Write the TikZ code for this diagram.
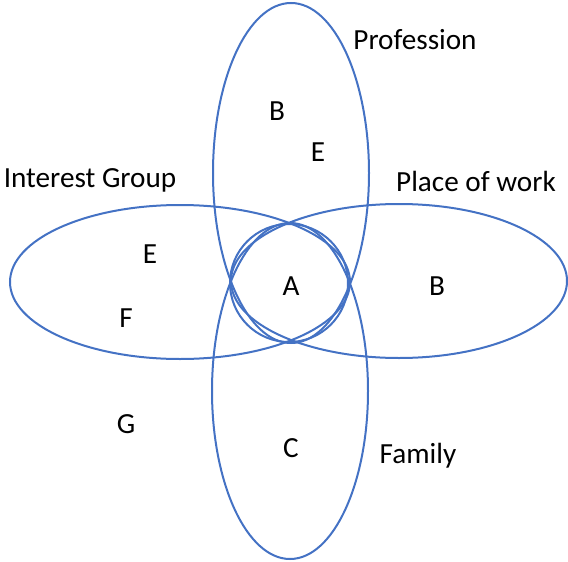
\documentclass[tikz,border=0pt]{standalone}
\usepackage{fontspec}
\setmainfont{Carlito}
\usetikzlibrary{positioning}

\definecolor{setblue}{RGB}{68,114,196}

\begin{document}
\begin{tikzpicture}
    [x=0.5pt, y=-0.5pt,
      set/.style={draw=setblue, line width=1pt},
      member/.style={inner sep=0pt, font=\fontsize{14.6}{17}\selectfont},
      setname/.style={member, anchor=center}]

    \useasboundingbox (0,0) rectangle (568,562);

    % the four groups and the core
    \draw [set] (291,173) ellipse [x radius=78, y radius=170];
    \draw [set] (290,391) ellipse [x radius=78, y radius=168];
    \draw [set] (180,282) ellipse [x radius=170, y radius=77];
    \draw [set] (399,281) ellipse [x radius=168, y radius=77];
    \draw [set] (289,283) circle [radius=59];

    % group names
    \node [setname] (profession) at (415,40) {Profession};
    \node [setname] (work) at (476,181) {Place of work};
    \node [setname] (interest) at (90,180) {Interest Group};
    \node [setname] (family) at (418,456) {Family};

    % members
    \node [member] (core) at (291,286) {A};
    \node [member] (profB) at (277,111) {B};
    \node [member] (profE) at (318,152) {E};
    \node [member] (intE) at (150,254) {E};
    \node [member] (intF) at (126,318) {F};
    \node [member] (workB) at (437,286) {B};
    \node [member] (outG) at (126,424) {G};
    \node [member] (famC) at (291,448) {C};
  \end{tikzpicture}
\end{document}
